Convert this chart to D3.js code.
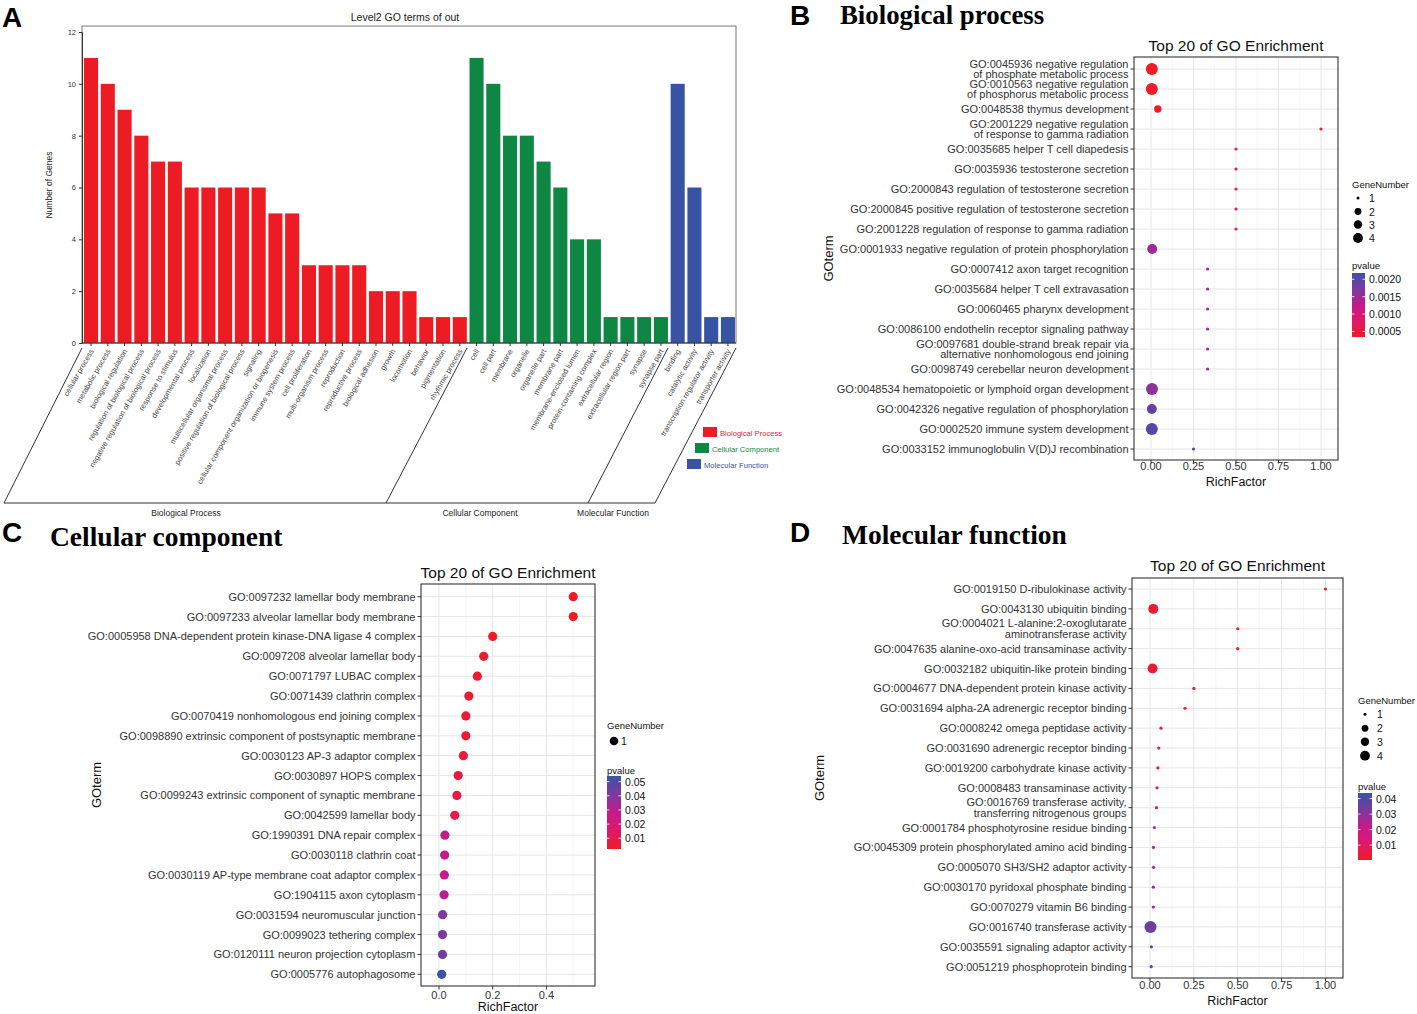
<!DOCTYPE html>
<html><head><meta charset="utf-8">
<script src="https://cdn.jsdelivr.net/npm/d3@7"></script>
<style>body{margin:0;background:#fff;} svg{display:block;font-family:"Liberation Sans",Arial,sans-serif;}</style>
</head><body><svg id="c" width="1417" height="1014"></svg>
<script>
// ---------------- Panel A data ----------------
const bpTerms = ["cellular process","metabolic process","biological regulation","regulation of biological process","negative regulation of biological process","response to stimulus","developmental process","localization","multicellular organismal process","positive regulation of biological process","signaling","cellular component organization or biogenesis","immune system process","cell proliferation","multi-organism process","reproduction","reproductive process","biological adhesion","growth","locomotion","behavior","pigmentation","rhythmic process"];
const bpCounts = [11,10,9,8,7,7,6,6,6,6,6,5,5,3,3,3,3,2,2,2,1,1,1];
const ccTerms = ["cell","cell part","membrane","organelle","organelle part","membrane part","membrane-enclosed lumen","protein-containing complex","extracellular region","extracellular region part","synapse","synapse part"];
const ccCounts = [11,10,8,8,7,6,4,4,1,1,1,1];
const mfTerms = ["binding","catalytic activity","transcription regulator activity","transporter activity"];
const mfCounts = [10,6,1,1];
const groupNames = ["Biological Process","Cellular Component","Molecular Function"];
const groupColors = ["#ED1C24","#0E8744","#3953A4"];
const aTicks = [0,2,4,6,8,10,12];

// ---------------- Panel B data ----------------
const bTerms = ["GO:0045936 negative regulation\nof phosphate metabolic process","GO:0010563 negative regulation\nof phosphorus metabolic process","GO:0048538 thymus development","GO:2001229 negative regulation\nof response to gamma radiation","GO:0035685 helper T cell diapedesis","GO:0035936 testosterone secretion","GO:2000843 regulation of testosterone secretion","GO:2000845 positive regulation of testosterone secretion","GO:2001228 regulation of response to gamma radiation","GO:0001933 negative regulation of protein phosphorylation","GO:0007412 axon target recognition","GO:0035684 helper T cell extravasation","GO:0060465 pharynx development","GO:0086100 endothelin receptor signaling pathway","GO:0097681 double-strand break repair via\nalternative nonhomologous end joining","GO:0098749 cerebellar neuron development","GO:0048534 hematopoietic or lymphoid organ development","GO:0042326 negative regulation of phosphorylation","GO:0002520 immune system development","GO:0033152 immunoglobulin V(D)J recombination"];
const bRich = [0.005,0.005,0.04,1.0,0.5,0.5,0.5,0.5,0.5,0.007,0.333,0.333,0.333,0.333,0.333,0.333,0.006,0.005,0.005,0.25];
const bGenes = [4,4,2,1,1,1,1,1,1,3,1,1,1,1,1,1,4,3,4,1];
const bP = [0.00034,0.00036,0.0004,0.0004,0.0008,0.0008,0.0008,0.0008,0.0008,0.0015,0.00155,0.00155,0.00155,0.00155,0.00155,0.00155,0.0016,0.0019,0.002,0.00218];
const bXTicks = [0,0.25,0.5,0.75,1];
const bPTicks = [0.0005,0.001,0.0015,0.002];

// ---------------- Panel C data ----------------
const cTerms = ["GO:0097232 lamellar body membrane","GO:0097233 alveolar lamellar body membrane","GO:0005958 DNA-dependent protein kinase-DNA ligase 4 complex","GO:0097208 alveolar lamellar body","GO:0071797 LUBAC complex","GO:0071439 clathrin complex","GO:0070419 nonhomologous end joining complex","GO:0098890 extrinsic component of postsynaptic membrane","GO:0030123 AP-3 adaptor complex","GO:0030897 HOPS complex","GO:0099243 extrinsic component of synaptic membrane","GO:0042599 lamellar body","GO:1990391 DNA repair complex","GO:0030118 clathrin coat","GO:0030119 AP-type membrane coat adaptor complex","GO:1904115 axon cytoplasm","GO:0031594 neuromuscular junction","GO:0099023 tethering complex","GO:0120111 neuron projection cytoplasm","GO:0005776 autophagosome"];
const cRich = [0.5,0.5,0.2,0.1667,0.1429,0.1111,0.1,0.1,0.0909,0.0714,0.0667,0.0588,0.022,0.021,0.02,0.019,0.0137,0.013,0.013,0.01];
const cGenes = [1,1,1,1,1,1,1,1,1,1,1,1,1,1,1,1,1,1,1,1];
const cP = [0.0024,0.0024,0.003,0.0035,0.004,0.005,0.0055,0.0055,0.006,0.0075,0.008,0.009,0.026,0.027,0.028,0.030,0.040,0.041,0.042,0.054];
const cXTicks = [0,0.2,0.4];
const cPTicks = [0.01,0.02,0.03,0.04,0.05];

// ---------------- Panel D data ----------------
const dTerms = ["GO:0019150 D-ribulokinase activity","GO:0043130 ubiquitin binding","GO:0004021 L-alanine:2-oxoglutarate\naminotransferase activity","GO:0047635 alanine-oxo-acid transaminase activity","GO:0032182 ubiquitin-like protein binding","GO:0004677 DNA-dependent protein kinase activity","GO:0031694 alpha-2A adrenergic receptor binding","GO:0008242 omega peptidase activity","GO:0031690 adrenergic receptor binding","GO:0019200 carbohydrate kinase activity","GO:0008483 transaminase activity","GO:0016769 transferase activity,\ntransferring nitrogenous groups","GO:0001784 phosphotyrosine residue binding","GO:0045309 protein phosphorylated amino acid binding","GO:0005070 SH3/SH2 adaptor activity","GO:0030170 pyridoxal phosphate binding","GO:0070279 vitamin B6 binding","GO:0016740 transferase activity","GO:0035591 signaling adaptor activity","GO:0051219 phosphoprotein binding"];
const dRich = [1.0,0.019,0.5,0.5,0.015,0.25,0.2,0.0625,0.05,0.045,0.04,0.037,0.025,0.02,0.02,0.019,0.019,0.003,0.008,0.007];
const dGenes = [1,3,1,1,3,1,1,1,1,1,1,1,1,1,1,1,1,4,1,1];
const dP = [0.0004,0.002,0.0008,0.0008,0.003,0.0016,0.002,0.010,0.012,0.013,0.014,0.015,0.019,0.024,0.025,0.027,0.028,0.035,0.0436,0.0436];
const dXTicks = [0,0.25,0.5,0.75,1];
const dPTicks = [0.01,0.02,0.03,0.04];

const geneLegend = [1,2,3,4];
const gradientStops = ["#EE1C25","#E0186A","#C41A8C","#7A3A9E","#3E51A6"];

// ---------------------------------------------------------------
const svg = d3.select("#c");
svg.append("rect").attr("width",1417).attr("height",1014).attr("fill","#fff");

// Panel letters
[["A",2,27],["B",790,25],["C",2,542],["D",790,542]].forEach(([t,x,y])=>{
  svg.append("text").attr("x",x).attr("y",y).text(t)
    .attr("font-size",28).attr("font-weight","bold").attr("fill","#000");
});
// Serif panel titles
[["Biological process",840,24,26.8],["Cellular component",50,546,27.5],["Molecular function",842,544,27.5]].forEach(([t,x,y,fs])=>{
  svg.append("text").attr("x",x).attr("y",y).text(t)
    .attr("font-family","'Liberation Serif','Times New Roman',serif")
    .attr("font-size",fs).attr("font-weight","bold").attr("fill","#000");
});

// ---------------- Panel A ----------------
(function(){
  const terms = bpTerms.concat(ccTerms, mfTerms);
  const counts = bpCounts.concat(ccCounts, mfCounts);
  const groups = bpTerms.map(()=>0).concat(ccTerms.map(()=>1), mfTerms.map(()=>2));
  const g = svg.append("g");
  const x = d3.scaleBand().domain(d3.range(terms.length)).range([83,736]).paddingInner(0.16).paddingOuter(0.06);
  const y = d3.scaleLinear().domain([0,12]).range([343,32]);
  const top = y(12.23);
  g.append("rect").attr("x",82).attr("y",top).attr("width",654).attr("height",343-top)
    .attr("fill","none").attr("stroke","#777").attr("stroke-width",1);
  g.selectAll("rect.bar").data(counts).join("rect").attr("class","bar")
    .attr("x",(d,i)=>x(i)).attr("width",x.bandwidth())
    .attr("y",d=>y(d)).attr("height",d=>y(0)-y(d))
    .attr("fill",(d,i)=>groupColors[groups[i]]);
  const ya = g.append("g").attr("transform","translate(82,0)")
    .call(d3.axisLeft(y).tickValues(aTicks).tickSize(3).tickPadding(3).tickFormat(d3.format("d")));
  ya.select(".domain").attr("stroke","#333");
  ya.selectAll("text").attr("font-size",7.5).attr("fill","#333").attr("font-family","'Liberation Sans',Arial,sans-serif");
  ya.selectAll("line").attr("stroke","#333");
  const xa = g.append("g").attr("transform","translate(0,343)")
    .call(d3.axisBottom(x).tickSize(3).tickFormat(""));
  xa.select(".domain").attr("stroke","#333").attr("d","M82,0H736");
  xa.selectAll("line").attr("stroke","#333");
  g.selectAll("text.lab").data(terms).join("text").attr("class","lab")
    .attr("transform",(d,i)=>`translate(${x(i)+x.bandwidth()/2+3},351) rotate(-60)`)
    .attr("text-anchor","end").attr("font-size",7.6).attr("fill","#444").text(d=>d);
  g.append("text").attr("transform","translate(52,185) rotate(-90)").attr("text-anchor","middle")
    .attr("font-size",8.5).attr("fill","#222").text("Number of Genes");
  g.append("text").attr("x",405).attr("y",21).attr("text-anchor","middle")
    .attr("font-size",10.5).attr("fill","#222").text("Level2 GO terms of out");
  const lineC = "#333";
  const segs = [[[82,348],[4,503]],[[467,348],[386,503]],[[668,348],[588,503]],[[736,348],[655,503]],[[4,503],[655,503]]];
  segs.forEach(s=>g.append("line").attr("x1",s[0][0]).attr("y1",s[0][1]).attr("x2",s[1][0]).attr("y2",s[1][1])
    .attr("stroke",lineC).attr("stroke-width",1));
  [[186,groupNames[0]],[480,groupNames[1]],[613,groupNames[2]]].forEach(([cx,t])=>{
    g.append("text").attr("x",cx).attr("y",516).attr("text-anchor","middle").attr("font-size",8.5).attr("fill","#222").text(t);
  });
  const lg = [[703,427],[695,443],[687,459]];
  groupNames.forEach((n,i)=>{
    g.append("rect").attr("x",lg[i][0]).attr("y",lg[i][1]).attr("width",14).attr("height",10).attr("fill",groupColors[i]);
    g.append("text").attr("x",lg[i][0]+17).attr("y",lg[i][1]+8.5).attr("font-size",7.6).attr("fill",groupColors[i]).text(n);
  });
})();

// ---------------- Dot panels ----------------
const colorInterp = d3.piecewise(d3.interpolateRgb, gradientStops);
let gradId = 0;
function dotPanel(o){
  const g = svg.append("g");
  const x = d3.scaleLinear().domain(o.xDomain).range([o.x0,o.x1]);
  const y = d3.scalePoint().domain(d3.range(o.terms.length)).range([o.yFirst,o.yLast]);
  const col = d3.scaleSequential(colorInterp).domain(o.pDomain).clamp(true);
  g.append("rect").attr("x",o.x0).attr("y",o.y0).attr("width",o.x1-o.x0).attr("height",o.y1-o.y0).attr("fill","#fff");
  o.minor.forEach(v=>g.append("line").attr("x1",x(v)).attr("x2",x(v)).attr("y1",o.y0).attr("y2",o.y1)
    .attr("stroke","#F0F0F0").attr("stroke-width",0.6));
  o.xTicks.forEach(v=>g.append("line").attr("x1",x(v)).attr("x2",x(v)).attr("y1",o.y0).attr("y2",o.y1)
    .attr("stroke","#E6E6E6").attr("stroke-width",1));
  o.terms.forEach((t,i)=>g.append("line").attr("x1",o.x0).attr("x2",o.x1).attr("y1",y(i)).attr("y2",y(i))
    .attr("stroke","#E6E6E6").attr("stroke-width",1));
  g.selectAll("circle.pt").data(o.terms.map((t,i)=>i)).join("circle").attr("class","pt")
    .attr("cx",i=>x(o.rich[i])).attr("cy",i=>y(i))
    .attr("r",i=>o.rFn(o.genes[i])).attr("fill",i=>col(o.p[i]));
  g.append("rect").attr("x",o.x0).attr("y",o.y0).attr("width",o.x1-o.x0).attr("height",o.y1-o.y0)
    .attr("fill","none").attr("stroke","#333").attr("stroke-width",1.1);
  o.terms.forEach((t,i)=>{
    g.append("line").attr("x1",o.x0-3.5).attr("x2",o.x0).attr("y1",y(i)).attr("y2",y(i)).attr("stroke","#333");
    const lines = t.split("\n");
    const tx = g.append("text").attr("text-anchor","end").attr("font-size",11).attr("fill","#333");
    lines.forEach((l,k)=>{
      const off = lines.length===1 ? 4 : (k===0 ? -1.5 : 9.3);
      tx.append("tspan").attr("x",o.x0-5.5).attr("y",y(i)+off).text(l);
    });
  });
  o.xTicks.forEach(v=>{
    g.append("line").attr("x1",x(v)).attr("x2",x(v)).attr("y1",o.y1).attr("y2",o.y1+3.5).attr("stroke","#333");
    g.append("text").attr("x",x(v)).attr("y",o.tickY).attr("text-anchor","middle").attr("font-size",11).attr("fill","#333").text(d3.format(o.xFmt)(v));
  });
  g.append("text").attr("x",(o.x0+o.x1)/2).attr("y",o.xlabY).attr("text-anchor","middle").attr("font-size",12.5).attr("fill","#111").text("RichFactor");
  g.append("text").attr("transform",`translate(${o.ylabX},${(o.y0+o.y1)/2}) rotate(-90)`).attr("text-anchor","middle").attr("font-size",13).attr("fill","#111").text("GOterm");
  g.append("text").attr("x",(o.x0+o.x1)/2).attr("y",o.titleY).attr("text-anchor","middle").attr("font-size",15.5).attr("fill","#111").text("Top 20 of GO Enrichment");
  const L = o.leg;
  g.append("text").attr("x",L.x).attr("y",L.gnY).attr("font-size",9.5).attr("fill","#111").text("GeneNumber");
  L.sizes.forEach((s,k)=>{
    g.append("circle").attr("cx",L.cx).attr("cy",L.itemY[k]).attr("r",L.legR(s)).attr("fill","#000");
    g.append("text").attr("x",L.tx).attr("y",L.itemY[k]+4).attr("font-size",10.5).attr("fill","#111").text(s);
  });
  g.append("text").attr("x",L.x).attr("y",L.pvY).attr("font-size",9.5).attr("fill","#111").text("pvalue");
  const id = "grad"+(gradId++);
  const lg = svg.append("defs").append("linearGradient").attr("id",id).attr("x1",0).attr("y1",1).attr("x2",0).attr("y2",0);
  d3.range(0,1.0001,0.05).forEach(t=>lg.append("stop").attr("offset",t).attr("stop-color",colorInterp(t)));
  g.append("rect").attr("x",L.barX).attr("y",L.barY0).attr("width",L.barW).attr("height",L.barY1-L.barY0).attr("fill",`url(#${id})`);
  const py = d3.scaleLinear().domain(o.pDomain).range([L.barY1,L.barY0]);
  o.pTicks.forEach(v=>{
    g.append("line").attr("x1",L.barX).attr("x2",L.barX+2.5).attr("y1",py(v)).attr("y2",py(v)).attr("stroke","#fff").attr("stroke-width",0.8);
    g.append("line").attr("x1",L.barX+L.barW-2.5).attr("x2",L.barX+L.barW).attr("y1",py(v)).attr("y2",py(v)).attr("stroke","#fff").attr("stroke-width",0.8);
    g.append("text").attr("x",L.barX+L.barW+4).attr("y",py(v)+4).attr("font-size",10.5).attr("fill","#111").text(d3.format(o.pFmt)(v));
  });
}
const plotR = n => Math.sqrt(2.56 + 11.15*(n-1));
const legR = n => [1.5,3.4,4.2,4.9][n-1];

dotPanel({terms:bTerms,rich:bRich,genes:bGenes,p:bP,
  x0:1134,x1:1338,y0:57,y1:460,yFirst:69,yLast:449,xDomain:[-0.1,1.1],xTicks:bXTicks,minor:[0.125,0.375,0.625,0.875],xFmt:".2f",
  pDomain:[0.00034,0.00218],pTicks:bPTicks,pFmt:".4f",rFn:plotR,
  tickY:470,xlabY:485.5,ylabX:833,titleY:51,
  leg:{x:1352,gnY:188,sizes:geneLegend,itemY:[198,211.5,224.5,238],cx:1358,tx:1369,legR:legR,pvY:269,barX:1352,barW:13,barY0:273,barY1:337}});

dotPanel({terms:cTerms,rich:cRich,genes:cGenes,p:cP,
  x0:421,x1:595,y0:584,y1:986,yFirst:596.7,yLast:974.3,xDomain:[-0.067,0.581],xTicks:cXTicks,minor:[0.1,0.3,0.5],xFmt:".1f",
  pDomain:[0.0024,0.054],pTicks:cPTicks,pFmt:".2f",rFn:()=>4.6,
  tickY:999,xlabY:1011,ylabX:101,titleY:578,
  leg:{x:607,gnY:729,sizes:[1],itemY:[741],cx:614,tx:621,legR:()=>4.3,pvY:774,barX:607,barW:14,barY0:776,barY1:849}});

dotPanel({terms:dTerms,rich:dRich,genes:dGenes,p:dP,
  x0:1132,x1:1343,y0:578,y1:978,yFirst:589,yLast:966.7,xDomain:[-0.1025,1.1],xTicks:dXTicks,minor:[0.125,0.375,0.625,0.875],xFmt:".2f",
  pDomain:[0.0004,0.0436],pTicks:dPTicks,pFmt:".2f",rFn:plotR,
  tickY:989,xlabY:1004.5,ylabX:824,titleY:571,
  leg:{x:1358,gnY:704,sizes:geneLegend,itemY:[714.3,728.3,741.7,755.7],cx:1365,tx:1377,legR:legR,pvY:790,barX:1358,barW:14,barY0:793,barY1:860}});
</script></body></html>
